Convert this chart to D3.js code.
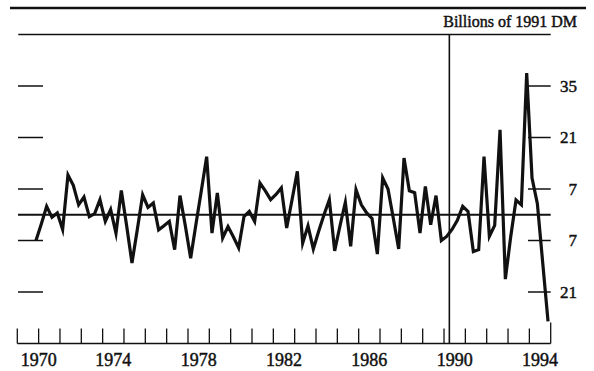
<!DOCTYPE html>
<meta charset="utf-8">
<title>Billions of 1991 DM</title>
<head>
    <script src="https://d3js.org/d3.v7.min.js"></script>
</head>
<body style="margin: 0px; background: #fff">
<script>

    // quarterly values, 1970 Q4 .. 1994 Q4
    var firstYear = 1970, firstQuarter = 4;
    var values = [
        -7, -2.5, 2.3, -0.7, 0.5, -4, 10.8, 8, 2.7, 4.8,
        -0.5, 0.3, 4.1, -1.8, 1.4, -5, 6.6, -3, -13.1, -4,
        5.4, 2, 3.2, -4.1, -3, -1.8, -9.5, 5.2, -3, -11.8,
        -2.5, 6.5, 15.8, -5, 5.9, -6.3, -3.2, -6, -9, -0.5,
        0.9, -1.8, 8.6, 6.5, 4.1, 5.5, 7.3, -3.6, 4, 11.8,
        -7.7, -3, -9.3, -4.5, 0, 4.1, -9.8, -3, 3.4, -8.6,
        6.8, 2.7, 0.5, -1, -10.7, 10, 7, -1, -9.3, 15.4,
        6.5, 6, -5, 7.7, -2.7, 5.2, -7, -5.9, -4, -1.5,
        2.3, 0.9, -10, -9.5, 15.8, -5.9, -2.9, 23.1, -17.5, -6,
        4, 2.7, 38.5, 10, 3, -13, -29
    ];
    var yearTicks = d3.range(1970, 1996);
    var yearLabels = [1970, 1974, 1978, 1982, 1986, 1990, 1994];
    var valueTicks = [35, 21, 7, -7, -21];
    var unification = 1990.25;
    var unitLabel = "Billions of 1991 DM";

    var width = 594, height = 371;
    var x = d3.scaleLinear().domain([1970, 1995]).range([17.3, 550.7]);
    var y = d3.scaleLinear().domain([-35, 49]).range([343.5, 34.5]);

    var data = values.map(function (v, i) {
        var q = firstQuarter - 1 + i;
        return {t: firstYear + Math.floor(q / 4) + ((q % 4) + 0.5) / 4, v: v};
    });

    var svg = d3.select("body").append("svg")
            .attr("width", width)
            .attr("height", height)
            .style("display", "block");

    var ink = "#111";
    var font = "'Liberation Serif', 'Times New Roman', serif";

    function label(sel, size) {
        sel.style("font-family", font).style("font-size", size)
                .attr("fill", ink).attr("stroke", ink).attr("stroke-width", 0.45);
    }

    // top rule and heading
    svg.append("line").attr("x1", 10).attr("x2", 586).attr("y1", 8).attr("y2", 8)
            .attr("stroke", ink).attr("stroke-width", 2.5);
    svg.append("text").attr("x", 577).attr("y", 26.5).attr("text-anchor", "end")
            .call(label, "16px")
            .text(unitLabel);

    // plot frame top
    svg.append("line").attr("x1", x(1970) + 1).attr("x2", x(1995)).attr("y1", y(49)).attr("y2", y(49))
            .attr("stroke", ink).attr("stroke-width", 1.5);

    // value ticks, left and right
    var yt = svg.append("g");
    yt.selectAll("line.l").data(valueTicks).enter().append("line").attr("class", "l")
            .attr("x1", 18).attr("x2", 43).attr("y1", y).attr("y2", y)
            .attr("stroke", ink).attr("stroke-width", 1.5);
    yt.selectAll("line.r").data(valueTicks).enter().append("line").attr("class", "r")
            .attr("x1", 528).attr("x2", x(1995)).attr("y1", y).attr("y2", y)
            .attr("stroke", ink).attr("stroke-width", 1.5);
    yt.selectAll("text").data(valueTicks).enter().append("text")
            .attr("x", 577).attr("y", function (d) { return y(d); }).attr("dy", "0.35em")
            .attr("text-anchor", "end")
            .call(label, "17px")
            .text(function (d) { return Math.abs(d); });

    // zero line
    svg.append("line").attr("x1", 18).attr("x2", x(1995)).attr("y1", y(0)).attr("y2", y(0))
            .attr("stroke", ink).attr("stroke-width", 2);

    // unification marker
    svg.append("line").attr("x1", x(unification)).attr("x2", x(unification))
            .attr("y1", y(49)).attr("y2", y(-35))
            .attr("stroke", ink).attr("stroke-width", 1.6);

    // time axis
    var xa = svg.append("g");
    xa.append("line").attr("x1", x(1970)).attr("x2", x(1995)).attr("y1", y(-35)).attr("y2", y(-35))
            .attr("stroke", ink).attr("stroke-width", 1.5);
    xa.selectAll("line.tick").data(yearTicks).enter().append("line").attr("class", "tick")
            .attr("x1", x).attr("x2", x)
            .attr("y1", y(-35))
            .attr("y2", function (d) { return y(-35) - (d === 1995 ? 21 : 15); })
            .attr("stroke", ink).attr("stroke-width", 1.3);
    xa.selectAll("text").data(yearLabels).enter().append("text")
            .attr("x", function (d) { return d === 1970 ? x(d) + 3.5 : x(d + 0.5); })
            .attr("y", 365.5)
            .attr("text-anchor", function (d) { return d === 1970 ? "start" : "middle"; })
            .call(label, "18px")
            .text(function (d) { return d; });

    // series
    var line = d3.line().x(function (d) { return x(d.t); }).y(function (d) { return y(d.v); });
    svg.append("path").datum(data).attr("d", line)
            .attr("fill", "none").attr("stroke", ink).attr("stroke-width", 3.2)
            .attr("stroke-linejoin", "miter").attr("stroke-miterlimit", 6);

</script>
</body>
